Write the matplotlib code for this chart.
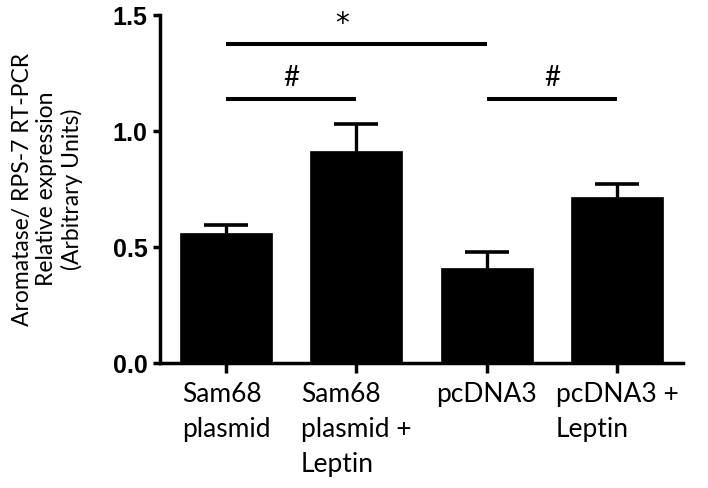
import numpy as np
import matplotlib
matplotlib.use("Agg")
import matplotlib.pyplot as plt
import matplotlib.transforms as mtransforms

# Données
groupes = ["Sam68\nplasmid", "Sam68\nplasmid +\nLeptin", "pcDNA3", "pcDNA3 +\nLeptin"]
moyennes = [0.559, 0.915, 0.408, 0.717]
erreurs = [0.035, 0.114, 0.069, 0.055]
# comparaisons (groupe a, groupe b, hauteur, symbole)
comparaisons = [(0, 2, 1.374, "*"), (0, 1, 1.137, "#"), (2, 3, 1.137, "#")]

fig = plt.figure(figsize=(7.08, 4.88), dpi=100)
ax = fig.add_axes([0.226, 0.2561, 0.7387, 0.7131])

x = np.arange(len(groupes))
ax.bar(x, moyennes, width=0.706, color="black", edgecolor="black", linewidth=0.5, zorder=2)
eb = ax.errorbar(x, moyennes, yerr=[np.zeros(len(erreurs)), erreurs], fmt="none",
                 ecolor="black", elinewidth=2.4, capsize=16, capthick=2.6, zorder=3)
# on ne garde que le trait du haut
eb[1][0].set_visible(False)

# barres de significativité
for a, b, h, sym in comparaisons:
    ax.plot([x[a], x[b]], [h, h], color="black", lw=2.9, solid_capstyle="butt")
    if sym == "*":
        ax.text((x[a] + x[b]) / 2 - 0.11, h + 0.025, sym, ha="center", va="bottom",
                fontsize=20, family="DejaVu Sans")
    else:
        ax.text((x[a] + x[b]) / 2, h + 0.035, sym, ha="center", va="bottom",
                fontsize=20, family="Lato")

ax.set_xlim(-0.506, 3.506)
ax.set_ylim(0, 1.5)
ax.set_yticks([0.0, 0.5, 1.0, 1.5])
ax.set_yticklabels(["0.0", "0.5", "1.0", "1.5"], fontsize=18, fontweight="bold",
                   family="Liberation Sans")
ax.set_xticks(x)
ax.set_xticklabels(groupes, fontsize=19, family="Lato", multialignment="left",
                   linespacing=1.5)

# petits décalages des étiquettes comme sur l'original
decalages = [-12, 3, 0, 24]
for lab, dx in zip(ax.get_xticklabels(), decalages):
    lab.set_transform(lab.get_transform() + mtransforms.ScaledTranslation(dx / 100, 0, fig.dpi_scale_trans))

for s in ["top", "right"]:
    ax.spines[s].set_visible(False)
for s in ["left", "bottom"]:
    ax.spines[s].set_linewidth(2.5)
ax.tick_params(axis="y", length=5, width=2.5, pad=4)
ax.tick_params(axis="x", length=7, width=2.5, pad=7)

ax.set_ylabel("Aromatase/ RPS-7 RT-PCR\nRelative expression\n(Arbitrary Units)",
              fontsize=16.5, family="Lato", linespacing=1.2)
ax.yaxis.set_label_coords(-0.147, 0.5)

fig.savefig("out.png", dpi=100)
